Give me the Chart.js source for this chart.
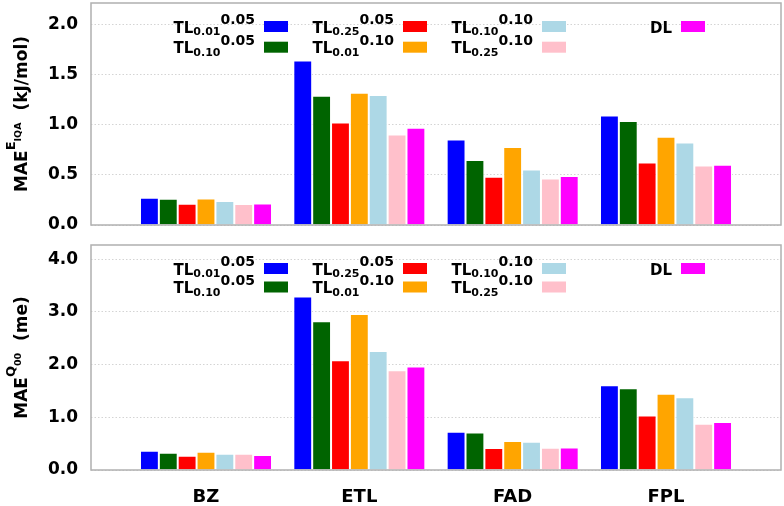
<!DOCTYPE html>
<html>
<head>
<meta charset="utf-8">
<script src="https://cdn.jsdelivr.net/npm/chart.js@4.4.1/dist/chart.umd.min.js"></script>
<style>
  html, body { margin: 0; padding: 0; background: #ffffff; }
  #wrap1 { position: absolute; left: 0; top: 0; width: 784px; height: 235px; }
  #wrap2 { position: absolute; left: 0; top: 235px; width: 784px; height: 271px; }
</style>
</head>
<body>
<div id="wrap1"><canvas id="c1" width="784" height="235"></canvas></div>
<div id="wrap2"><canvas id="c2" width="784" height="271"></canvas></div>
<script>
// ---------- data ----------
const categories = ['BZ', 'ETL', 'FAD', 'FPL'];

// legend labels: base, subscript, superscript
const seriesBase = ['TL', 'TL', 'TL', 'TL', 'TL', 'TL', 'DL'];
const seriesSub  = ['0.01', '0.10', '0.25', '0.01', '0.10', '0.25', ''];
const seriesSup  = ['0.05', '0.05', '0.05', '0.10', '0.10', '0.10', ''];

// MAE of E_IQA (kJ/mol)
const iqa_TL001_005 = [0.272, 1.638, 0.852, 1.091];
const iqa_TL010_005 = [0.262, 1.287, 0.647, 1.035];
const iqa_TL025_005 = [0.212, 1.021, 0.481, 0.623];
const iqa_TL001_010 = [0.265, 1.316, 0.776, 0.879];
const iqa_TL010_010 = [0.239, 1.294, 0.553, 0.822];
const iqa_TL025_010 = [0.209, 0.901, 0.464, 0.593];
const iqa_DL        = [0.215, 0.968, 0.488, 0.600];

// MAE of Q00 (me)
const q00_TL001_005 = [0.366, 3.295, 0.725, 1.610];
const q00_TL010_005 = [0.328, 2.822, 0.712, 1.553];
const q00_TL025_005 = [0.271, 2.083, 0.417, 1.034];
const q00_TL001_010 = [0.347, 2.960, 0.549, 1.445];
const q00_TL010_010 = [0.309, 2.259, 0.536, 1.383];
const q00_TL025_010 = [0.309, 1.894, 0.422, 0.877];
const q00_DL        = [0.284, 1.962, 0.428, 0.909];

const iqaTicks = [0, 0.5, 1.0, 1.5, 2.0];
const q00Ticks = [0, 1.0, 2.0, 3.0, 4.0];

// ---------- styles ----------
const colors = ['#0000ff', '#006400', '#ff0000', '#ffa500', '#add8e6', '#ffc0cb', '#ff00ff'];
const FONT = '"DejaVu Sans", "Liberation Sans", sans-serif';

function drawRich(ctx, parts, x, y, align) {
  let total = 0;
  parts.forEach(p => {
    ctx.font = 'bold ' + p.size + 'px ' + FONT;
    p.w = ctx.measureText(p.text).width;
    total += p.w;
  });
  let cx = align === 'right' ? x - total : (align === 'center' ? x - total / 2 : x);
  ctx.textAlign = 'left';
  ctx.textBaseline = 'alphabetic';
  ctx.fillStyle = '#000';
  parts.forEach(p => {
    ctx.font = 'bold ' + p.size + 'px ' + FONT;
    ctx.fillText(p.text, cx, y + p.dy);
    cx += p.w;
  });
}

const decorPlugin = {
  id: 'decor',
  afterDraw(chart, args, opts) {
    const ctx = chart.ctx;
    const ca = chart.chartArea;
    ctx.save();
    // frame
    ctx.strokeStyle = '#b0b0b0';
    ctx.lineWidth = 1.5;
    ctx.strokeRect(ca.left, ca.top, ca.right - ca.left, ca.bottom - ca.top);
    // legend
    chart.data.datasets.forEach((ds, i) => {
      const col = Math.floor(i / 2), row = i % 2;
      const sx = ca.left + 173 + col * 139;
      const sy = ca.top + 18 + row * opts.rowGap;
      ctx.fillStyle = ds.backgroundColor;
      ctx.fillRect(sx, sy, 24, 11);
      const parts = [{ text: seriesBase[i], size: 15, dy: 0 }];
      if (seriesSub[i]) parts.push({ text: seriesSub[i], size: 11, dy: 2.8 });
      if (seriesSup[i]) parts.push({ text: seriesSup[i], size: 14, dy: -8.5 });
      drawRich(ctx, parts, sx - 9, sy + 11.5, 'right');
    });
    // y-axis title (rotated)
    const cy = (ca.top + ca.bottom) / 2;
    ctx.translate(26.5, cy);
    ctx.rotate(-Math.PI / 2);
    drawRich(ctx, [
      { text: 'MAE', size: 17, dy: 0 },
      { text: opts.supMain, size: 13, dy: -11.5 },
      { text: opts.supSub, size: 9.5, dy: -5.5 },
      { text: '  ' + opts.unit, size: 17, dy: 0 }
    ], 0, 0, 'center');
    ctx.restore();
  }
};

function makeDatasets(arrays) {
  return arrays.map((arr, i) => ({
    label: seriesBase[i] + seriesSub[i] + seriesSup[i],
    data: arr.map((v, k) => ({ x: k, y: v })),
    backgroundColor: colors[i],
    borderColor: '#ffffff',
    borderWidth: 1,
    categoryPercentage: 0.861,
    barPercentage: 1.0
  }));
}

function zeroPad(s) {
  s.paddingTop = 0; s.paddingBottom = 0; s.paddingLeft = 0; s.paddingRight = 0;
}

function makeChart(id, arrays, yMax, yTicks, showX, padding, rowGap, supMain, supSub, unit) {
  return new Chart(document.getElementById(id), {
    type: 'bar',
    data: { datasets: makeDatasets(arrays) },
    options: {
      responsive: false,
      animation: false,
      devicePixelRatio: 1,
      layout: { padding: padding },
      plugins: {
        legend: { display: false },
        tooltip: { enabled: false },
        decor: { rowGap: rowGap, supMain: supMain, supSub: supSub, unit: unit }
      },
      scales: {
        x: {
          type: 'linear',
          bounds: 'data',
          offset: false,
          min: -0.75,
          max: 3.75,
          display: showX,
          grid: { display: false, drawTicks: false, offset: false },
          border: { display: false },
          afterBuildTicks: s => { s.ticks = categories.map((c, i) => ({ value: i })); },
          afterFit: s => { if (showX) s.height = 36; zeroPad(s); },
          ticks: {
            autoSkip: false,
            maxRotation: 0,
            padding: 17,
            color: '#000',
            font: { family: FONT, size: 18, weight: 'bold' },
            callback: v => categories[v]
          }
        },
        y: {
          type: 'linear',
          bounds: 'data',
          min: 0,
          max: yMax,
          afterBuildTicks: s => { s.ticks = yTicks.map(v => ({ value: v })); },
          afterFit: s => { s.width = 91; zeroPad(s); },
          grid: { color: '#d4d4d4', lineWidth: 1, drawTicks: false },
          border: { display: false, dash: [1.5, 2] },
          ticks: {
            padding: 13,
            color: '#000',
            font: { family: FONT, size: 17, weight: 'bold' },
            callback: v => Number(v).toFixed(1)
          }
        }
      }
    },
    plugins: [decorPlugin]
  });
}

makeChart('c1',
  [iqa_TL001_005, iqa_TL010_005, iqa_TL025_005, iqa_TL001_010, iqa_TL010_010, iqa_TL025_010, iqa_DL],
  2.21, iqaTicks, false, { top: 3, right: 3, bottom: 10, left: 0 }, 20.7, 'E', 'IQA', '(kJ/mol)');

makeChart('c2',
  [q00_TL001_005, q00_TL010_005, q00_TL025_005, q00_TL001_010, q00_TL010_010, q00_TL025_010, q00_DL],
  4.27, q00Ticks, true, { top: 10, right: 3, bottom: 0, left: 0 }, 18.5, 'Q', '00', '(me)');
</script>
</body>
</html>
